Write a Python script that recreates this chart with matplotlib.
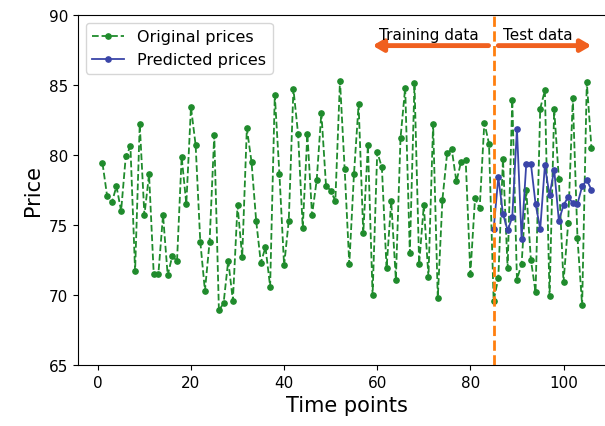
import numpy as np
import matplotlib
matplotlib.use("Agg")
import matplotlib.pyplot as plt

# original prices, time points 1..106
original_prices = [
    79.4, 77.05, 76.6, 77.75, 76.0, 79.9, 80.6, 71.7, 82.2, 75.7,
    78.6, 71.5, 71.5, 75.7, 71.4, 72.8, 72.4, 79.85, 76.5, 83.4,
    80.7, 73.8, 70.3, 73.8, 81.4, 68.9, 69.4, 72.45, 69.6, 76.4,
    72.7, 81.9, 79.5, 75.3, 72.3, 73.4, 70.6, 84.3, 78.6, 72.1,
    75.3, 84.7, 81.5, 74.8, 81.5, 75.7, 78.2, 83.0, 77.8, 77.45,
    76.7, 85.3, 79.0, 72.2, 78.6, 83.6, 74.4, 80.7, 70.0, 80.2,
    79.1, 71.9, 76.7, 71.1, 81.2, 84.8, 73.0, 85.1, 72.2, 76.4,
    71.3, 82.2, 69.8, 76.8, 80.1, 80.4, 78.1, 79.5, 79.6, 71.5,
    76.9, 76.2, 82.3, 80.8, 69.6, 71.2, 79.7, 71.9, 83.95, 71.1,
    72.2, 77.5, 72.5, 70.2, 83.3, 84.6, 69.9, 83.25, 78.3, 70.9,
    75.1, 84.05, 74.05, 69.25, 85.2, 80.5,
]
time_points = np.arange(1, len(original_prices) + 1)

# predicted prices on the test part, time points 85..106
predicted_prices = [
    74.7, 78.4, 75.8, 74.6, 75.55, 81.86, 74.0, 79.36, 79.36, 76.5,
    74.7, 79.24, 77.1, 78.95, 75.3, 76.4, 77.0, 76.55, 76.5, 77.75,
    78.2, 77.5,
]
split_point = 85
pred_points = np.arange(split_point, split_point + len(predicted_prices))

green = "#1f8b2c"
blue = "#3a45a8"
arrow_col = "#f0601f"

fig = plt.figure(figsize=(6.05, 4.27), dpi=100)
ax = fig.add_axes([0.129, 0.143, 0.889, 0.820])

ax.plot(time_points, original_prices, linestyle="--", marker="o", markersize=3.8,
        color=green, linewidth=1.3, label="Original prices")
ax.plot(pred_points, predicted_prices, linestyle="-", marker="o", markersize=3.8,
        color=blue, linewidth=1.3, label="Predicted prices")

ax.axvline(split_point, color="#ff7f0e", linestyle="--", linewidth=2)

# training / test arrows
ax.annotate("", xy=(59, 87.8), xytext=(83.9, 87.8),
            arrowprops=dict(arrowstyle="-|>,head_length=0.6,head_width=0.35",
                            color=arrow_col, lw=3.5, shrinkA=0, shrinkB=0))
ax.annotate("", xy=(106, 87.8), xytext=(86.0, 87.8),
            arrowprops=dict(arrowstyle="-|>,head_length=0.6,head_width=0.35",
                            color=arrow_col, lw=3.5, shrinkA=0, shrinkB=0))
ax.text(71, 88.6, "Training data", ha="center", va="center", fontsize=11)
ax.text(94.5, 88.6, "Test data", ha="center", va="center", fontsize=11)

ax.set_xlim(-4.25, 111.25)
ax.set_ylim(65, 90)
ax.set_xticks([0, 20, 40, 60, 80, 100])
ax.set_yticks([65, 70, 75, 80, 85, 90])
ax.tick_params(labelsize=11)
ax.spines["right"].set_visible(False)

ax.set_xlabel("Time points", fontsize=15)
ax.set_ylabel("Price", fontsize=15)

ax.legend(loc="upper left", fontsize=11.5, borderaxespad=0.5)

fig.savefig("out.png", dpi=100)
